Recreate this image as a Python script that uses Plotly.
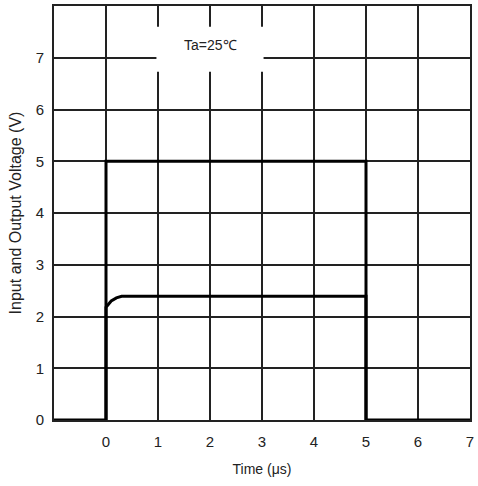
import plotly.graph_objects as go

# Input signal (V) vs time (us)
t_in = [-1, 0, 0, 5, 5, 7]
v_in = [0, 0, 5, 5, 0, 0]
# Output signal
t_out = [0, 0, 0.1, 0.2, 0.3, 5, 5]
v_out = [0, 2.18, 2.3, 2.36, 2.39, 2.39, 0]

x_ticks = [0, 1, 2, 3, 4, 5, 6, 7]
y_ticks = [0, 1, 2, 3, 4, 5, 6, 7]

FONT = "Liberation Sans, Arial, sans-serif"

fig = go.Figure()
fig.add_trace(go.Scatter(x=t_in, y=v_in, mode="lines",
                         line=dict(color="black", width=3), showlegend=False))
fig.add_trace(go.Scatter(x=t_out, y=v_out, mode="lines",
                         line=dict(color="black", width=3), showlegend=False))

fig.add_shape(type="rect", x0=0.97, x1=3.03, y0=6.73, y1=7.6,
              fillcolor="white", line=dict(width=0), layer="above")
fig.add_annotation(x=2, y=7.25, text="Ta=25℃", showarrow=False,
                   font=dict(family=FONT, size=14, color="#222"))

fig.update_layout(
    width=478, height=486,
    margin=dict(l=54, r=4, t=5, b=66),
    plot_bgcolor="white", paper_bgcolor="white",
    font=dict(family=FONT, size=15, color="#222"),
)
fig.update_xaxes(range=[-1, 7], tickvals=x_ticks, showgrid=True,
                 gridcolor="#222", gridwidth=1.5, zeroline=False,
                 showline=True, linecolor="#222", linewidth=2, mirror=True,
                 ticks="", ticklabelstandoff=7,
                 title=dict(text="Time (μs)", font=dict(family=FONT, size=14), standoff=15))
fig.update_yaxes(range=[0, 8], tickvals=y_ticks, showgrid=True,
                 gridcolor="#222", gridwidth=1.5, zeroline=False,
                 showline=True, linecolor="#222", linewidth=2, mirror=True,
                 ticks="", ticklabelstandoff=5,
                 title=dict(text="Input and Output Voltage (V)", font=dict(family=FONT, size=16), standoff=10))

fig.write_html("out.html")
